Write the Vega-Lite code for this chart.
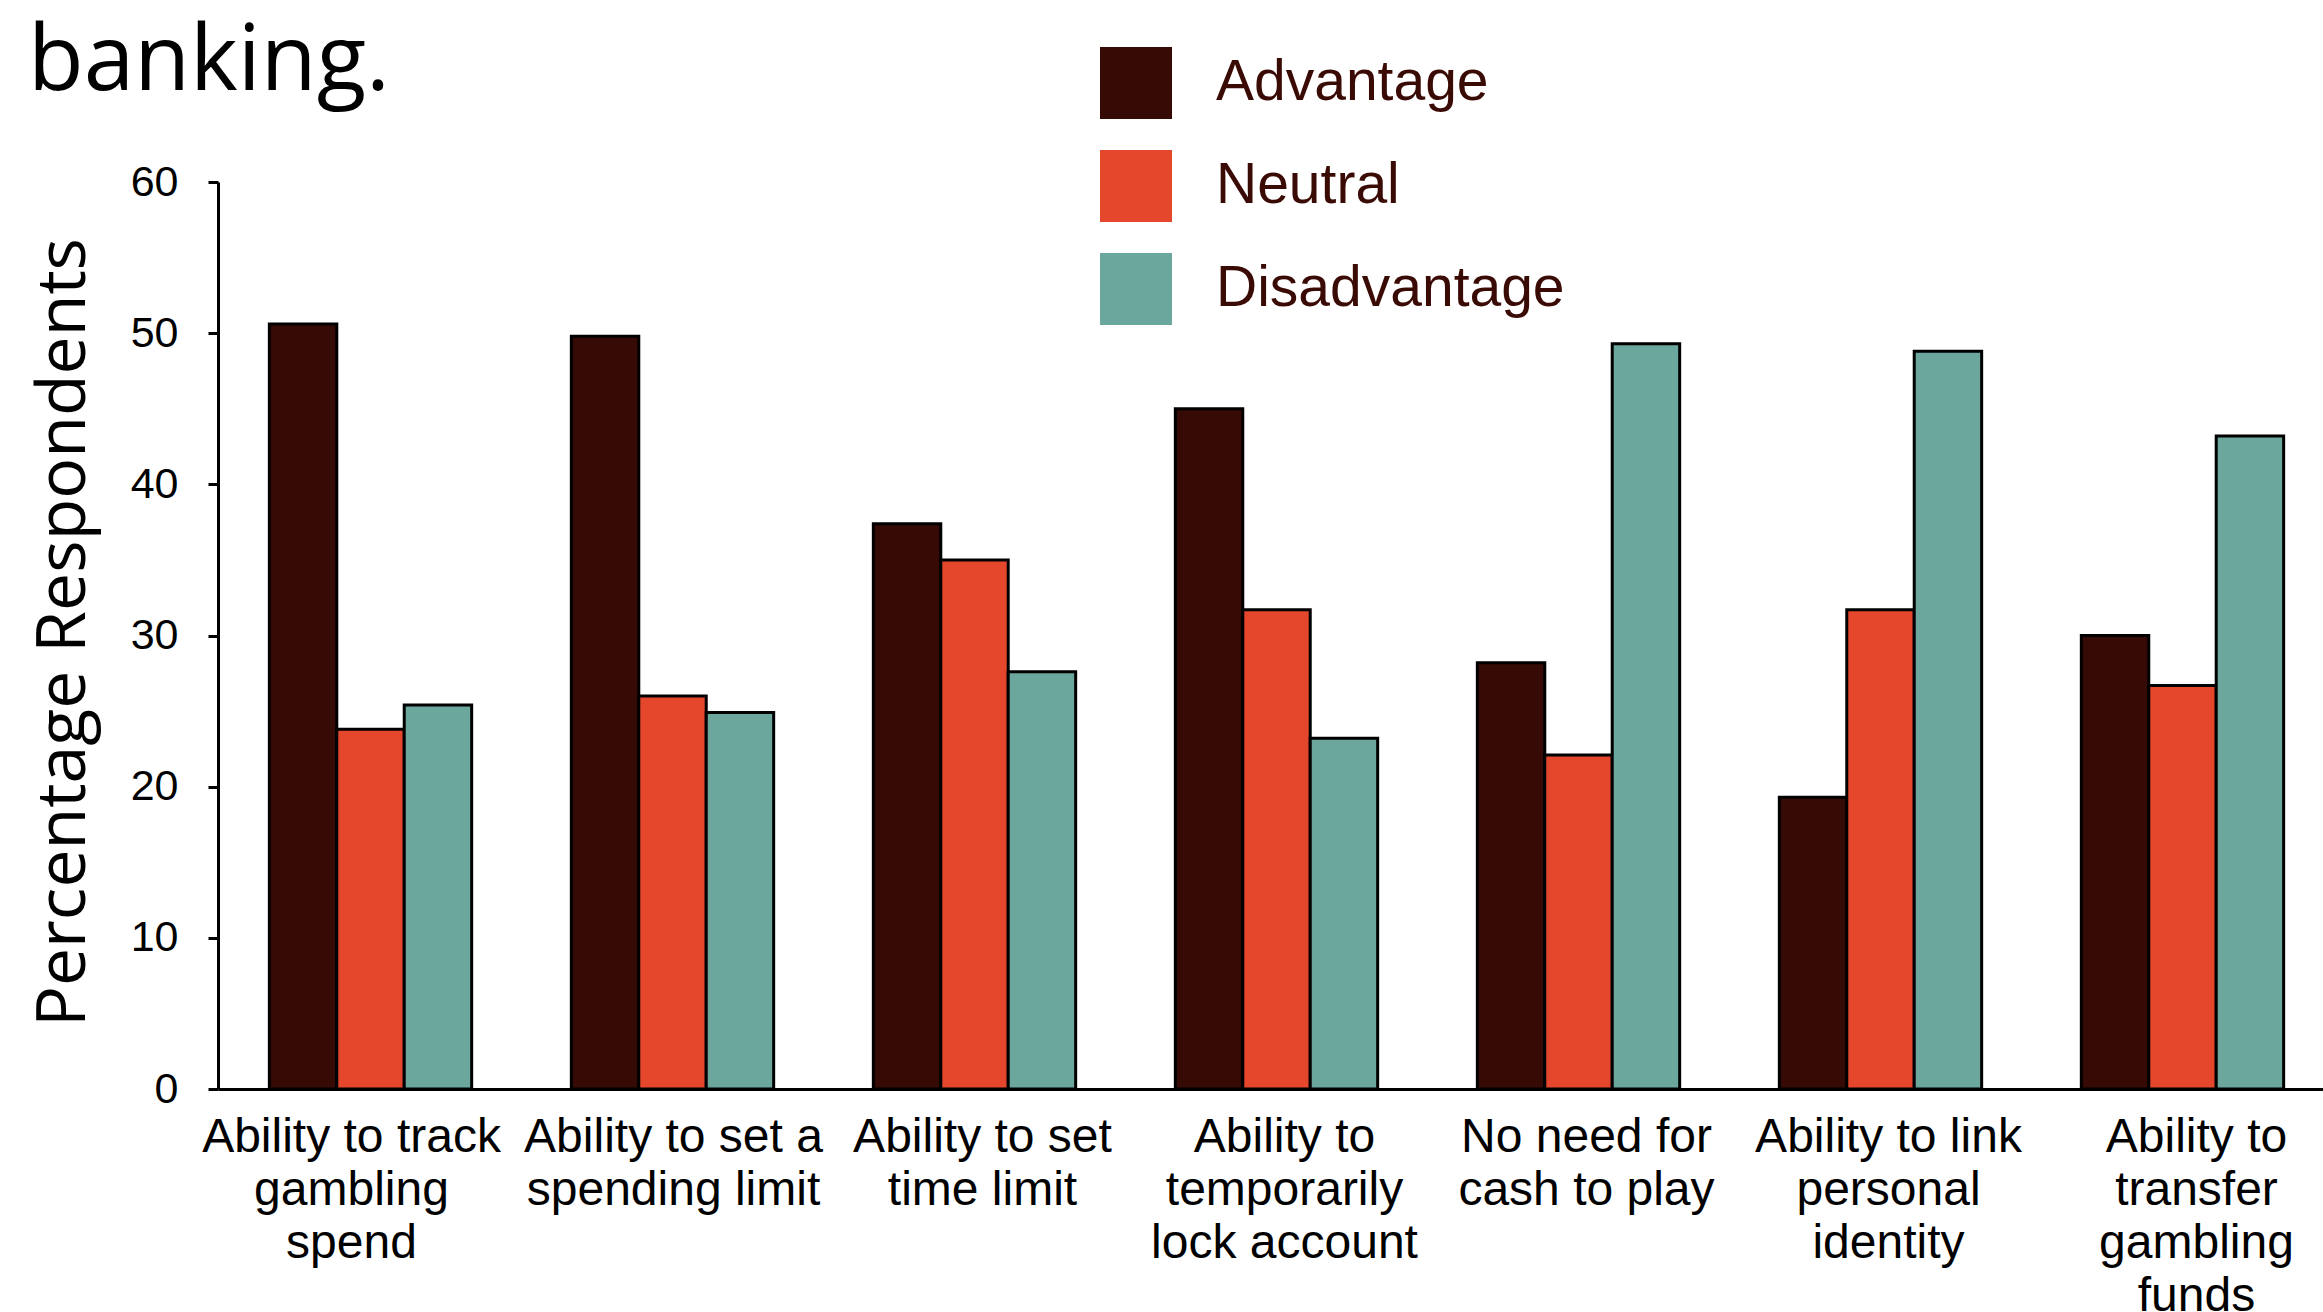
{
  "$schema": "https://vega.github.io/schema/vega-lite/v6.json",
  "width": 2117,
  "height": 907,
  "autosize": {"type": "none"},
  "padding": {"left": 218, "top": 182, "right": 0, "bottom": 223},
  "background": "white",
  "title": {
    "text": "banking.",
    "anchor": "start",
    "frame": "group",
    "font": "Open Sans",
    "fontSize": 91,
    "fontWeight": "normal",
    "color": "black",
    "dx": -190,
    "offset": 0,
    "dy": 62
  },
  "data": {
    "values": [
      {"feature": "Ability to track gambling spend", "response": "Advantage", "pct": 50.6},
      {"feature": "Ability to track gambling spend", "response": "Neutral", "pct": 23.8},
      {"feature": "Ability to track gambling spend", "response": "Disadvantage", "pct": 25.4},
      {"feature": "Ability to set a spending limit", "response": "Advantage", "pct": 49.8},
      {"feature": "Ability to set a spending limit", "response": "Neutral", "pct": 26.0},
      {"feature": "Ability to set a spending limit", "response": "Disadvantage", "pct": 24.9},
      {"feature": "Ability to set time limit", "response": "Advantage", "pct": 37.4},
      {"feature": "Ability to set time limit", "response": "Neutral", "pct": 35.0},
      {"feature": "Ability to set time limit", "response": "Disadvantage", "pct": 27.6},
      {"feature": "Ability to temporarily lock account", "response": "Advantage", "pct": 45.0},
      {"feature": "Ability to temporarily lock account", "response": "Neutral", "pct": 31.7},
      {"feature": "Ability to temporarily lock account", "response": "Disadvantage", "pct": 23.2},
      {"feature": "No need for cash to play", "response": "Advantage", "pct": 28.2},
      {"feature": "No need for cash to play", "response": "Neutral", "pct": 22.1},
      {"feature": "No need for cash to play", "response": "Disadvantage", "pct": 49.3},
      {"feature": "Ability to link personal identity", "response": "Advantage", "pct": 19.3},
      {"feature": "Ability to link personal identity", "response": "Neutral", "pct": 31.7},
      {"feature": "Ability to link personal identity", "response": "Disadvantage", "pct": 48.8},
      {"feature": "Ability to transfer gambling funds", "response": "Advantage", "pct": 30.0},
      {"feature": "Ability to transfer gambling funds", "response": "Neutral", "pct": 26.7},
      {"feature": "Ability to transfer gambling funds", "response": "Disadvantage", "pct": 43.2}
    ]
  },
  "mark": {"type": "bar", "stroke": "black", "strokeWidth": 3},
  "encoding": {
    "x": {
      "field": "feature",
      "type": "nominal",
      "sort": null,
      "scale": {"paddingInner": 0.33, "paddingOuter": 0.17},
      "axis": {
        "title": null,
        "ticks": false,
        "labelAngle": 0,
        "labelFont": "Liberation Sans",
        "labelFontSize": 48,
        "labelColor": "black",
        "labelLineHeight": 53,
        "labelPadding": 24,
        "labelLimit": 0,
        "labelOverlap": false,
        "labelBaseline": "top",
        "domainColor": "black",
        "domainWidth": 3,
        "labelOffset": {"expr": "datum.value == 'Ability to track gambling spend' ? -19 : datum.value == 'Ability to set a spending limit' ? 1 : datum.value == 'Ability to transfer gambling funds' ? 14 : 8"},
        "labelExpr": "datum.label == 'Ability to track gambling spend' ? ['Ability to track','gambling','spend'] : datum.label == 'Ability to set a spending limit' ? ['Ability to set a','spending limit'] : datum.label == 'Ability to set time limit' ? ['Ability to set','time limit'] : datum.label == 'Ability to temporarily lock account' ? ['Ability to','temporarily','lock account'] : datum.label == 'No need for cash to play' ? ['No need for','cash to play'] : datum.label == 'Ability to link personal identity' ? ['Ability to link','personal','identity'] : ['Ability to','transfer','gambling','funds']"
      }
    },
    "xOffset": {
      "field": "response",
      "type": "nominal",
      "sort": ["Advantage", "Neutral", "Disadvantage"],
      "scale": {"paddingInner": 0, "paddingOuter": 0}
    },
    "y": {
      "field": "pct",
      "type": "quantitative",
      "scale": {"domain": [0, 60], "nice": false},
      "axis": {
        "title": "Percentage Respondents",
        "titleFont": "Open Sans",
        "titleFontSize": 68,
        "titleFontWeight": "normal",
        "titleColor": "black",
        "titleX": -154,
        "titleY": 450,
        "titleAngle": -90,
        "titleBaseline": "middle",
        "titleAlign": "center",
        "values": [0, 10, 20, 30, 40, 50, 60],
        "grid": false,
        "labelFont": "Liberation Sans",
        "labelFontSize": 43,
        "labelColor": "black",
        "labelPadding": 30,
        "tickSize": 10,
        "tickWidth": 3,
        "tickColor": "black",
        "domainColor": "black",
        "domainWidth": 3
      }
    },
    "color": {
      "field": "response",
      "type": "nominal",
      "sort": ["Advantage", "Neutral", "Disadvantage"],
      "scale": {
        "domain": ["Advantage", "Neutral", "Disadvantage"],
        "range": ["#360a05", "#e5472d", "#6ba79c"]
      },
      "legend": {
        "title": null,
        "orient": "none",
        "legendX": 882,
        "legendY": -135,
        "symbolType": "square",
        "symbolSize": 5184,
        "symbolStrokeWidth": 0,
        "symbolOpacity": 1,
        "labelFont": "Liberation Sans",
        "labelFontSize": 57,
        "labelColor": "#3a0a05",
        "labelOffset": 44,
        "labelLimit": 0,
        "rowPadding": 31,
        "padding": 0
      }
    }
  },
  "config": {
    "view": {"stroke": null}
  }
}
